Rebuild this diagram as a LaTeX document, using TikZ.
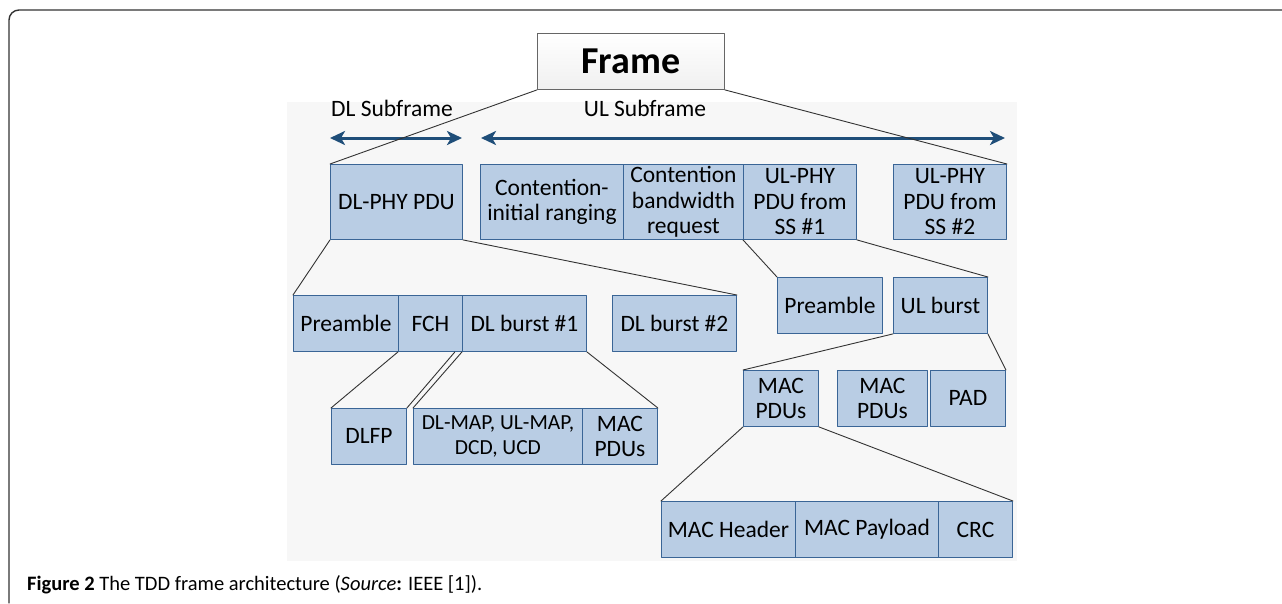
\documentclass[tikz,border=0pt]{standalone}
\usepackage{fontspec}
\setmainfont{Carlito}
\usepackage{tikz}
\usetikzlibrary{arrows.meta}

\definecolor{blkfill}{HTML}{B9CDE4}
\definecolor{blkline}{HTML}{3A6596}
\definecolor{arrblue}{HTML}{1F4E79}
\definecolor{linkgray}{HTML}{333333}

\tikzset{
  blk/.style={draw=blkline, fill=blkfill, line width=0.9pt, inner sep=0pt, anchor=north west,
    align=center, font=\fontsize{23.5}{25.5}\selectfont},
  link/.style={draw=linkgray, line width=0.9pt},
  span/.style={draw=arrblue, line width=3pt}
}

\begin{document}
\begin{tikzpicture}[line cap=round,line join=round,>={Stealth[length=15pt,width=14pt,inset=4pt]},x=1.0pt,y=-1.0pt]
\useasboundingbox (0,0) rectangle (1282,603);
\draw[linkgray, line width=1.4pt] (9,603) -- (9,20) arc (180:270:10) -- (1282,10);
\fill[gray!6] (287,102) rectangle (1017,561);

\node[draw=gray!80!black, line width=0.9pt, top color=white, bottom color=gray!12, anchor=north west,
  minimum width=187pt, minimum height=56pt, inner sep=0pt, font=\fontsize{38}{40}\selectfont\bfseries] (frame) at (537,33) {Frame};

\node[font=\fontsize{23.5}{26}\selectfont] (dlsub) at (392,108) {DL Subframe};
\node[font=\fontsize{23.5}{26}\selectfont] (ulsub) at (645,108) {UL Subframe};
\coordinate (dla) at (330,138);
\coordinate (dlb) at (462,138);
\coordinate (ula) at (481,138);
\coordinate (ulb) at (1005,138);
\draw[span, <->] (dla) -- (dlb);
\draw[span, <->] (ula) -- (ulb);

\node[blk, minimum width=132pt, minimum height=75pt] (dlphy) at (330,164) {DL-PHY PDU};
\node[blk, minimum width=143pt, minimum height=75pt] (cir) at (480,164) {Contention-\\initial ranging};
\node[blk, minimum width=120pt, minimum height=75pt] (cbr) at (623,164) {Contention\\bandwidth\\request};
\node[blk, minimum width=113pt, minimum height=75pt] (ulphya) at (743,164) {UL-PHY\\PDU from\\SS \#1};
\node[blk, minimum width=113pt, minimum height=75pt] (ulphyb) at (893,164) {UL-PHY\\PDU from\\SS \#2};

\node[blk, minimum width=105pt, minimum height=56pt] (dlpre) at (293,295) {Preamble};
\node[blk, minimum width=64pt, minimum height=56pt] (fch) at (398,295) {FCH};
\node[blk, minimum width=124pt, minimum height=56pt] (dlba) at (462,295) {DL burst \#1};
\node[blk, minimum width=124pt, minimum height=56pt] (dlbb) at (612,295) {DL burst \#2};

\node[blk, minimum width=75pt, minimum height=56pt] (dlfp) at (331,408) {DLFP};
\node[blk, minimum width=169pt, minimum height=56pt, font=\fontsize{21.5}{25}\selectfont] (maps) at (413,408) {DL-MAP, UL-MAP,\\DCD, UCD};
\node[blk, minimum width=75pt, minimum height=56pt] (dlmac) at (582,408) {MAC\\PDUs};

\node[blk, minimum width=105pt, minimum height=56pt] (ulpre) at (777,277) {Preamble};
\node[blk, minimum width=94pt, minimum height=56pt] (ulbst) at (893,277) {UL burst};

\node[blk, minimum width=75pt, minimum height=56pt] (ulmaca) at (743,370) {MAC\\PDUs};
\node[blk, minimum width=90pt, minimum height=56pt] (ulmacb) at (837,370) {MAC\\PDUs};
\node[blk, minimum width=75pt, minimum height=56pt] (pad) at (930,370) {PAD};

\node[blk, minimum width=134pt, minimum height=56pt] (machd) at (661,501) {MAC Header};
\node[blk, minimum width=143pt, minimum height=56pt] (macpl) at (795,501) {MAC Payload};
\node[blk, minimum width=74pt, minimum height=56pt] (crc) at (938,501) {CRC};

\draw[link] (frame.south west) -- (dlphy.north west);
\draw[link] (frame.south east) -- (ulphyb.north east);
\draw[link] (dlphy.south west) -- (dlpre.north west);
\draw[link] (dlphy.south east) -- (dlbb.north east);
\draw[link] (fch.south west) -- (dlfp.north west);
\draw[link] ([xshift=-8pt]fch.south east) -- (dlfp.north east);
\draw[link] (dlba.south west) -- (maps.north west);
\draw[link] (dlba.south east) -- (dlmac.north east);
\draw[link] (ulphya.south west) -- (ulpre.north west);
\draw[link] (ulphya.south east) -- (ulbst.north east);
\draw[link] (ulbst.south west) -- (ulmaca.north west);
\draw[link] (ulbst.south east) -- (pad.north east);
\draw[link] (ulmaca.south west) -- (machd.north west);
\draw[link] (ulmaca.south east) -- (crc.north east);

\node[anchor=base west, inner sep=0pt, font=\fontsize{20.5}{22}\selectfont] (caption) at (27,590)
  {\textbf{Figure 2} The TDD frame architecture (\textit{Source}\textbf{:} IEEE [1]).};
\end{tikzpicture}
\end{document}
